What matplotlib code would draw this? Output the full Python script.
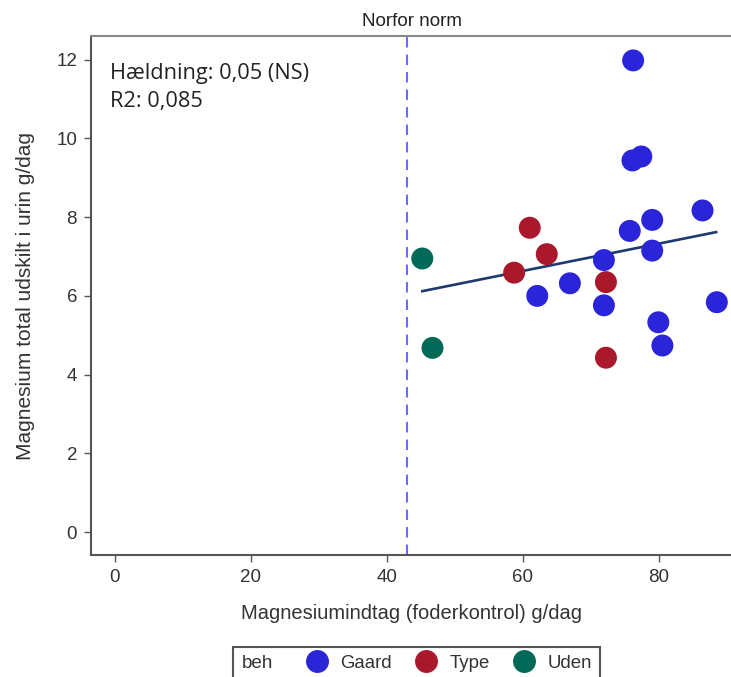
import matplotlib
matplotlib.use("Agg")
import matplotlib.pyplot as plt
from matplotlib.lines import Line2D
from matplotlib.patches import Rectangle

# ---- data ----
gaard_x = [76.2, 76.1, 77.4, 75.7, 79.0, 86.4, 79.0, 71.9, 66.9, 62.1, 71.9, 88.5, 79.9, 80.5]
gaard_y = [11.98, 9.44, 9.54, 7.65, 7.93, 8.17, 7.15, 6.91, 6.32, 6.00, 5.76, 5.84, 5.33, 4.74]
type_x = [61.0, 63.5, 58.7, 72.2, 72.2]
type_y = [7.73, 7.06, 6.59, 6.35, 4.43]
uden_x = [45.2, 46.7]
uden_y = [6.95, 4.68]
fit_x = [45.2, 88.4]
fit_y = [6.12, 7.62]
norm_x = 43.0
x_ticks = [0, 20, 40, 60, 80]
y_ticks = [0, 2, 4, 6, 8, 10, 12]
groups = ["Gaard", "Type", "Uden"]
colors = ["#2a25d8", "#a9192b", "#006957"]

W, H = 731, 677
fig = plt.figure(figsize=(W / 100, H / 100), dpi=100)
ax = fig.add_axes([91 / W, 1 - 555 / H, 1 - 91 / W + 0.002, (555 - 36) / H])

label_font = ["Liberation Sans", "DejaVu Sans"]
txt_col = "#333333"

ax.axvline(norm_x, color="#6b6bff", lw=1.5, dashes=(5, 3.4), zorder=1)
ax.plot(fit_x, fit_y, color="#1b3a6e", lw=1.9, zorder=2)
ms = 250
for xs, ys, c in zip([gaard_x, type_x, uden_x], [gaard_y, type_y, uden_y], colors):
    ax.scatter(xs, ys, s=ms, color=c, edgecolors="none", zorder=3)

ax.set_xlim(-3.5, 90.8)
ax.set_ylim(-0.58, 12.6)
ax.set_xticks(x_ticks)
ax.set_yticks(y_ticks)
for sp in ["left", "bottom", "top"]:
    ax.spines[sp].set_color("#555555")
    ax.spines[sp].set_linewidth(1.5)
ax.spines["top"].set_color("#888888")
ax.spines["right"].set_visible(False)
ax.tick_params(direction="out", length=5, width=1, color="#555555",
               labelsize=13.5, labelcolor=txt_col, pad=5)
for lab in ax.get_xticklabels() + ax.get_yticklabels():
    lab.set_fontfamily(label_font)

ax.set_xlabel("Magnesiumindtag (foderkontrol) g/dag", fontsize=14.5,
              fontfamily=label_font, color=txt_col, labelpad=13)
ax.set_ylabel("Magnesium total udskilt i urin g/dag", fontsize=15,
              fontfamily=label_font, color=txt_col, labelpad=15)
ax.set_title("Norfor norm", fontsize=13.5, fontfamily=label_font, color="#222222", pad=7)

ax.text(0.03, 0.948, "Hældning: 0,05 (NS)\nR2: 0,085", transform=ax.transAxes,
        ha="left", va="top", fontsize=15.7, fontfamily="Open Sans", color="#222222",
        linespacing=1.45)

# legend
fig.patches.append(Rectangle((233 / W, 1 - 700 / H), (600 - 233) / W, (700 - 647) / H,
                             transform=fig.transFigure, fill=False,
                             edgecolor="#555555", lw=1.5))
fig.text(242 / W, 1 - 663 / H, "beh", ha="left", va="center", fontsize=13.6,
         fontfamily=label_font, color=txt_col)
handles = [Line2D([], [], marker="o", ls="none", markersize=16.5, color=c, markeredgewidth=0)
           for c in colors]
fig.legend(handles, groups, ncol=3, frameon=False, loc="center left",
           bbox_to_anchor=(298 / W, 1 - 663 / H), handletextpad=0.25,
           columnspacing=0.85, borderaxespad=0, borderpad=0,
           prop={"family": label_font, "size": 13.4}, labelcolor=txt_col)

fig.savefig("out.png", dpi=100)
